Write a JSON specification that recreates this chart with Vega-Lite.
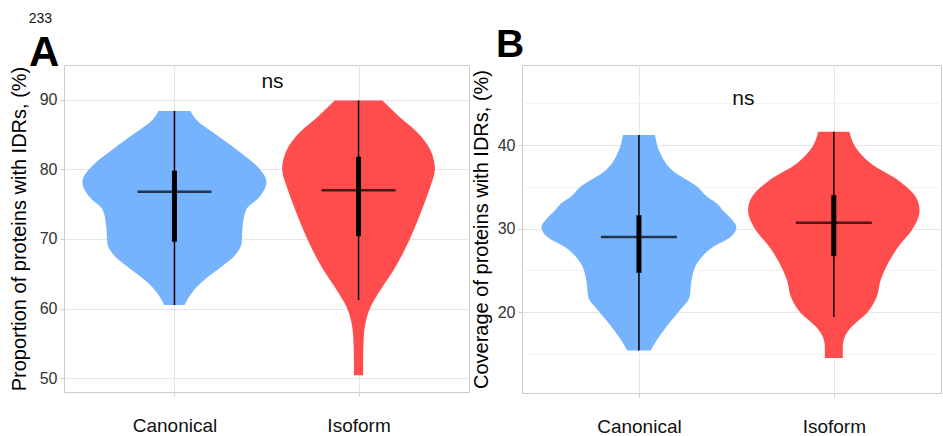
{
  "$schema": "https://vega.github.io/schema/vega-lite/v6.json",
  "background": "white",
  "padding": {"left": 8, "top": 11, "right": 0, "bottom": 0},
  "title": {"text": "233", "anchor": "start", "fontSize": 14, "fontWeight": "normal", "font": "Liberation Sans", "color": "#111", "dx": 20, "offset": 0},
  "config": {
    "font": "Liberation Sans",
    "view": {"stroke": "#cccccc", "strokeWidth": 1},
    "axis": {"domain": false, "tickColor": "#cccccc", "tickSize": 4, "labelFont": "Liberation Sans", "titleFont": "Liberation Sans", "titleFontWeight": "normal", "titleColor": "#000000", "labelColor": "#333333"}
  },
  "datasets": {
    "violinA": [
      {"group": "Canonical", "value": 60.5, "left": 0.945, "right": 1.055},
      {"group": "Canonical", "value": 61.7, "left": 0.92, "right": 1.08},
      {"group": "Canonical", "value": 63.6, "left": 0.86, "right": 1.14},
      {"group": "Canonical", "value": 65.5, "left": 0.77, "right": 1.23},
      {"group": "Canonical", "value": 67.4, "left": 0.68, "right": 1.32},
      {"group": "Canonical", "value": 69.4, "left": 0.635, "right": 1.365},
      {"group": "Canonical", "value": 71.7, "left": 0.63, "right": 1.37},
      {"group": "Canonical", "value": 74.2, "left": 0.61, "right": 1.39},
      {"group": "Canonical", "value": 76.0, "left": 0.54, "right": 1.46},
      {"group": "Canonical", "value": 78.2, "left": 0.5, "right": 1.5},
      {"group": "Canonical", "value": 80.4, "left": 0.55, "right": 1.45},
      {"group": "Canonical", "value": 82.8, "left": 0.66, "right": 1.34},
      {"group": "Canonical", "value": 85.3, "left": 0.79, "right": 1.21},
      {"group": "Canonical", "value": 87.1, "left": 0.88, "right": 1.12},
      {"group": "Canonical", "value": 88.4, "left": 0.913, "right": 1.087},
      {"group": "Isoform", "value": 50.4, "left": 1.975, "right": 2.025},
      {"group": "Isoform", "value": 52.2, "left": 1.975, "right": 2.025},
      {"group": "Isoform", "value": 55.0, "left": 1.973, "right": 2.027},
      {"group": "Isoform", "value": 57.9, "left": 1.962, "right": 2.038},
      {"group": "Isoform", "value": 60.2, "left": 1.935, "right": 2.065},
      {"group": "Isoform", "value": 62.7, "left": 1.88, "right": 2.12},
      {"group": "Isoform", "value": 65.5, "left": 1.81, "right": 2.19},
      {"group": "Isoform", "value": 68.4, "left": 1.75, "right": 2.25},
      {"group": "Isoform", "value": 71.3, "left": 1.7, "right": 2.3},
      {"group": "Isoform", "value": 74.6, "left": 1.65, "right": 2.35},
      {"group": "Isoform", "value": 77.5, "left": 1.61, "right": 2.39},
      {"group": "Isoform", "value": 80.0, "left": 1.585, "right": 2.415},
      {"group": "Isoform", "value": 82.8, "left": 1.61, "right": 2.39},
      {"group": "Isoform", "value": 85.3, "left": 1.68, "right": 2.32},
      {"group": "Isoform", "value": 87.6, "left": 1.78, "right": 2.22},
      {"group": "Isoform", "value": 89.9, "left": 1.87, "right": 2.13}
    ],
    "boxA": [
      {"group": "Canonical", "pos": 1, "min": 60.5, "q1": 69.6, "median": 76.8, "q3": 79.8, "max": 88.4},
      {"group": "Isoform", "pos": 2, "min": 61.2, "q1": 70.4, "median": 77.0, "q3": 81.8, "max": 89.9}
    ],
    "nsA": [{"pos": 1.5, "y": 91.7, "label": "ns"}],
    "violinB": [
      {"group": "Canonical", "value": 15.4, "left": 0.94, "right": 1.06},
      {"group": "Canonical", "value": 16.6, "left": 0.91, "right": 1.09},
      {"group": "Canonical", "value": 18.2, "left": 0.86, "right": 1.14},
      {"group": "Canonical", "value": 20.2, "left": 0.79, "right": 1.21},
      {"group": "Canonical", "value": 21.8, "left": 0.74, "right": 1.26},
      {"group": "Canonical", "value": 23.8, "left": 0.73, "right": 1.27},
      {"group": "Canonical", "value": 25.9, "left": 0.7, "right": 1.3},
      {"group": "Canonical", "value": 27.8, "left": 0.62, "right": 1.38},
      {"group": "Canonical", "value": 29.0, "left": 0.53, "right": 1.47},
      {"group": "Canonical", "value": 30.2, "left": 0.5, "right": 1.5},
      {"group": "Canonical", "value": 31.0, "left": 0.52, "right": 1.48},
      {"group": "Canonical", "value": 32.2, "left": 0.57, "right": 1.43},
      {"group": "Canonical", "value": 33.0, "left": 0.6, "right": 1.4},
      {"group": "Canonical", "value": 33.8, "left": 0.65, "right": 1.35},
      {"group": "Canonical", "value": 35.0, "left": 0.7, "right": 1.3},
      {"group": "Canonical", "value": 37.0, "left": 0.83, "right": 1.17},
      {"group": "Canonical", "value": 39.0, "left": 0.89, "right": 1.11},
      {"group": "Canonical", "value": 41.2, "left": 0.918, "right": 1.082},
      {"group": "Isoform", "value": 14.5, "left": 1.954, "right": 2.046},
      {"group": "Isoform", "value": 15.8, "left": 1.954, "right": 2.046},
      {"group": "Isoform", "value": 17.0, "left": 1.944, "right": 2.056},
      {"group": "Isoform", "value": 18.2, "left": 1.91, "right": 2.09},
      {"group": "Isoform", "value": 19.9, "left": 1.83, "right": 2.17},
      {"group": "Isoform", "value": 21.8, "left": 1.78, "right": 2.22},
      {"group": "Isoform", "value": 23.8, "left": 1.76, "right": 2.24},
      {"group": "Isoform", "value": 25.9, "left": 1.72, "right": 2.28},
      {"group": "Isoform", "value": 27.8, "left": 1.67, "right": 2.33},
      {"group": "Isoform", "value": 29.8, "left": 1.6, "right": 2.4},
      {"group": "Isoform", "value": 32.2, "left": 1.56, "right": 2.44},
      {"group": "Isoform", "value": 33.8, "left": 1.58, "right": 2.42},
      {"group": "Isoform", "value": 35.8, "left": 1.67, "right": 2.33},
      {"group": "Isoform", "value": 37.8, "left": 1.81, "right": 2.19},
      {"group": "Isoform", "value": 39.8, "left": 1.89, "right": 2.11},
      {"group": "Isoform", "value": 41.6, "left": 1.92, "right": 2.08}
    ],
    "boxB": [
      {"group": "Canonical", "pos": 1, "min": 15.4, "q1": 24.7, "median": 29.0, "q3": 31.6, "max": 41.2},
      {"group": "Isoform", "pos": 2, "min": 19.4, "q1": 26.7, "median": 30.7, "q3": 34.0, "max": 41.6}
    ],
    "nsB": [{"pos": 1.5, "y": 44.8, "label": "ns"}]
  },
  "spacing": 0,
  "hconcat": [
    {
      "width": 405,
      "height": 327,
      "title": {"text": "A", "anchor": "start", "frame": "group", "fontSize": 42, "fontWeight": "bold", "baseline": "alphabetic", "dx": -35, "offset": -43, "color": "#000000"},
      "layer": [
        {
          "data": {"name": "violinA"},
          "mark": {"type": "area", "orient": "horizontal", "interpolate": "monotone"},
          "encoding": {
            "y": {"field": "value", "type": "quantitative", "scale": {"domain": [48, 95], "nice": false, "zero": false},
              "axis": {"values": [50, 55, 60, 65, 70, 75, 80, 85, 90, 95],
                "labelExpr": "datum.value % 10 == 0 ? datum.label : ''",
                "gridColor": {"condition": {"test": "datum.value % 10 == 0", "value": "#e6e6e6"}, "value": "#f3f3f3"},
                "tickOpacity": {"condition": {"test": "datum.value % 10 == 0", "value": 1}, "value": 0},
                "title": "Proportion of proteins with IDRs, (%)", "titleFontSize": 20, "titlePadding": 10,
                "labelFontSize": 16, "labelPadding": 3}},
            "x": {"field": "left", "type": "quantitative", "scale": {"domain": [0.4, 2.6], "nice": false, "zero": false},
              "axis": {"values": [1, 2], "labelExpr": "datum.value == 1 ? 'Canonical' : 'Isoform'", "title": null,
                "grid": true, "gridColor": "#e6e6e6", "labelFontSize": 19, "labelPadding": 20, "labelColor": "#111111"}},
            "x2": {"field": "right"},
            "color": {"field": "group", "type": "nominal", "scale": {"domain": ["Canonical", "Isoform"], "range": ["#75B3FF", "#FF4D4D"]}, "legend": null}
          }
        },
        {
          "data": {"name": "boxA"},
          "mark": {"type": "rule", "strokeWidth": 1.5, "color": "#000000"},
          "encoding": {"x": {"field": "pos", "type": "quantitative", "title": null}, "y": {"field": "min", "type": "quantitative"}, "y2": {"field": "max"}}
        },
        {
          "data": {"name": "boxA"},
          "mark": {"type": "rule", "strokeWidth": 5, "color": "#000000"},
          "encoding": {"x": {"field": "pos", "type": "quantitative", "title": null}, "y": {"field": "q1", "type": "quantitative"}, "y2": {"field": "q3"}}
        },
        {
          "data": {"name": "boxA"},
          "mark": {"type": "tick", "orient": "horizontal", "size": 74, "thickness": 2.5, "color": "#000000"},
          "encoding": {"x": {"field": "pos", "type": "quantitative", "title": null}, "y": {"field": "median", "type": "quantitative"}}
        },
        {
          "data": {"name": "nsA"},
          "mark": {"type": "text", "fontSize": 21, "dx": 6, "baseline": "alphabetic", "color": "#111111"},
          "encoding": {"x": {"field": "pos", "type": "quantitative", "title": null}, "y": {"field": "y", "type": "quantitative"}, "text": {"field": "label"}}
        }
      ]
    },
    {
      "width": 419,
      "height": 328,
      "title": {"text": "B", "anchor": "start", "frame": "group", "fontSize": 39, "fontWeight": "bold", "baseline": "alphabetic", "dx": -26, "offset": -31, "color": "#000000"},
      "layer": [
        {
          "data": {"name": "violinB"},
          "mark": {"type": "area", "orient": "horizontal", "interpolate": "monotone"},
          "encoding": {
            "y": {"field": "value", "type": "quantitative", "scale": {"domain": [10.3, 49.6], "nice": false, "zero": false},
              "axis": {"values": [15, 20, 25, 30, 35, 40, 45],
                "labelExpr": "datum.value % 10 == 0 ? datum.label : ''",
                "gridColor": {"condition": {"test": "datum.value % 10 == 0", "value": "#e6e6e6"}, "value": "#f3f3f3"},
                "tickOpacity": {"condition": {"test": "datum.value % 10 == 0", "value": 1}, "value": 0},
                "title": "Coverage of proteins with IDRs, (%)", "titleFontSize": 20, "titlePadding": 6,
                "labelFontSize": 16, "labelPadding": 3}},
            "x": {"field": "left", "type": "quantitative", "scale": {"domain": [0.4, 2.55], "nice": false, "zero": false},
              "axis": {"values": [1, 2], "labelExpr": "datum.value == 1 ? 'Canonical' : 'Isoform'", "title": null,
                "grid": true, "gridColor": "#e6e6e6", "labelFontSize": 19, "labelPadding": 20, "labelColor": "#111111"}},
            "x2": {"field": "right"},
            "color": {"field": "group", "type": "nominal", "scale": {"domain": ["Canonical", "Isoform"], "range": ["#75B3FF", "#FF4D4D"]}, "legend": null}
          }
        },
        {
          "data": {"name": "boxB"},
          "mark": {"type": "rule", "strokeWidth": 1.5, "color": "#000000"},
          "encoding": {"x": {"field": "pos", "type": "quantitative", "title": null}, "y": {"field": "min", "type": "quantitative"}, "y2": {"field": "max"}}
        },
        {
          "data": {"name": "boxB"},
          "mark": {"type": "rule", "strokeWidth": 5, "color": "#000000"},
          "encoding": {"x": {"field": "pos", "type": "quantitative", "title": null}, "y": {"field": "q1", "type": "quantitative"}, "y2": {"field": "q3"}}
        },
        {
          "data": {"name": "boxB"},
          "mark": {"type": "tick", "orient": "horizontal", "size": 76, "thickness": 2.5, "color": "#000000"},
          "encoding": {"x": {"field": "pos", "type": "quantitative", "title": null}, "y": {"field": "median", "type": "quantitative"}}
        },
        {
          "data": {"name": "nsB"},
          "mark": {"type": "text", "fontSize": 21, "dx": 7, "baseline": "alphabetic", "color": "#111111"},
          "encoding": {"x": {"field": "pos", "type": "quantitative", "title": null}, "y": {"field": "y", "type": "quantitative"}, "text": {"field": "label"}}
        }
      ]
    }
  ]
}
